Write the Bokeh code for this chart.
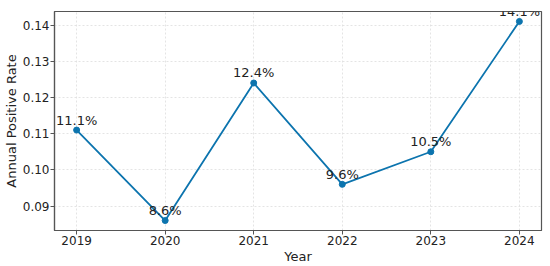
from bokeh.plotting import figure
from bokeh.models import ColumnDataSource, Range1d, FixedTicker, CustomJSTickFormatter, Label
from bokeh.embed import file_html
from bokeh.resources import INLINE

years = [2019, 2020, 2021, 2022, 2023, 2024]
rates = [0.111, 0.086, 0.124, 0.096, 0.105, 0.141]
labels = ["11.1%", "8.6%", "12.4%", "9.6%", "10.5%", "14.1%"]
y_ticks = [0.09, 0.10, 0.11, 0.12, 0.13, 0.14]

color = "#0C74AE"
font = "DejaVu Sans"

src = ColumnDataSource(dict(x=years, y=rates, t=labels))

ymin, ymax = min(rates), max(rates)
pad = (ymax - ymin) * 0.05
p = figure(width=550, height=266, output_backend="svg", toolbar_location=None,
           x_range=Range1d(years[0] - 0.25, years[-1] + 0.25),
           y_range=Range1d(ymin - pad, ymax + pad),
           min_border_left=0, min_border_right=9, min_border_top=11, min_border_bottom=0)

p.line("x", "y", source=src, line_color=color, line_width=1.8)
p.scatter("x", "y", source=src, size=6, fill_color=color, line_color=color)
for xv, yv, tv in zip(years, rates, labels):
    p.add_layout(Label(x=xv, y=yv, text=tv, text_align="center", text_baseline="alphabetic",
                       y_offset=10, text_font=font, text_font_size="13px",
                       text_color="#222222"))

p.xaxis.ticker = FixedTicker(ticks=years)
p.yaxis.ticker = FixedTicker(ticks=y_ticks)
p.yaxis.formatter = CustomJSTickFormatter(code="return tick.toFixed(2);")
p.xaxis.axis_label = "Year"
p.yaxis.axis_label = "Annual Positive Rate"

for ax in (p.xaxis[0], p.yaxis[0]):
    ax.axis_label_text_font = font
    ax.axis_label_text_font_size = "13px"
    ax.axis_label_text_font_style = "normal"
    ax.axis_label_text_color = "#222222"
    ax.major_label_text_font = font
    ax.major_label_text_font_size = "12px"
    ax.major_label_text_color = "#222222"
    ax.axis_line_color = "#555555"
    ax.axis_line_width = 1.2
    ax.major_tick_line_color = "#555555"
    ax.major_tick_out = 4
    ax.major_tick_in = 0
    ax.minor_tick_line_color = None
    ax.axis_label_standoff = 1
    ax.major_label_standoff = 1

p.outline_line_color = "#555555"
p.outline_line_width = 1.2
p.grid.grid_line_color = "#dddddd"
p.grid.grid_line_dash = "2 2"
p.grid.grid_line_width = 0.8
p.background_fill_color = "white"
p.border_fill_color = "white"

open("out.html", "w").write(file_html(p, INLINE))
